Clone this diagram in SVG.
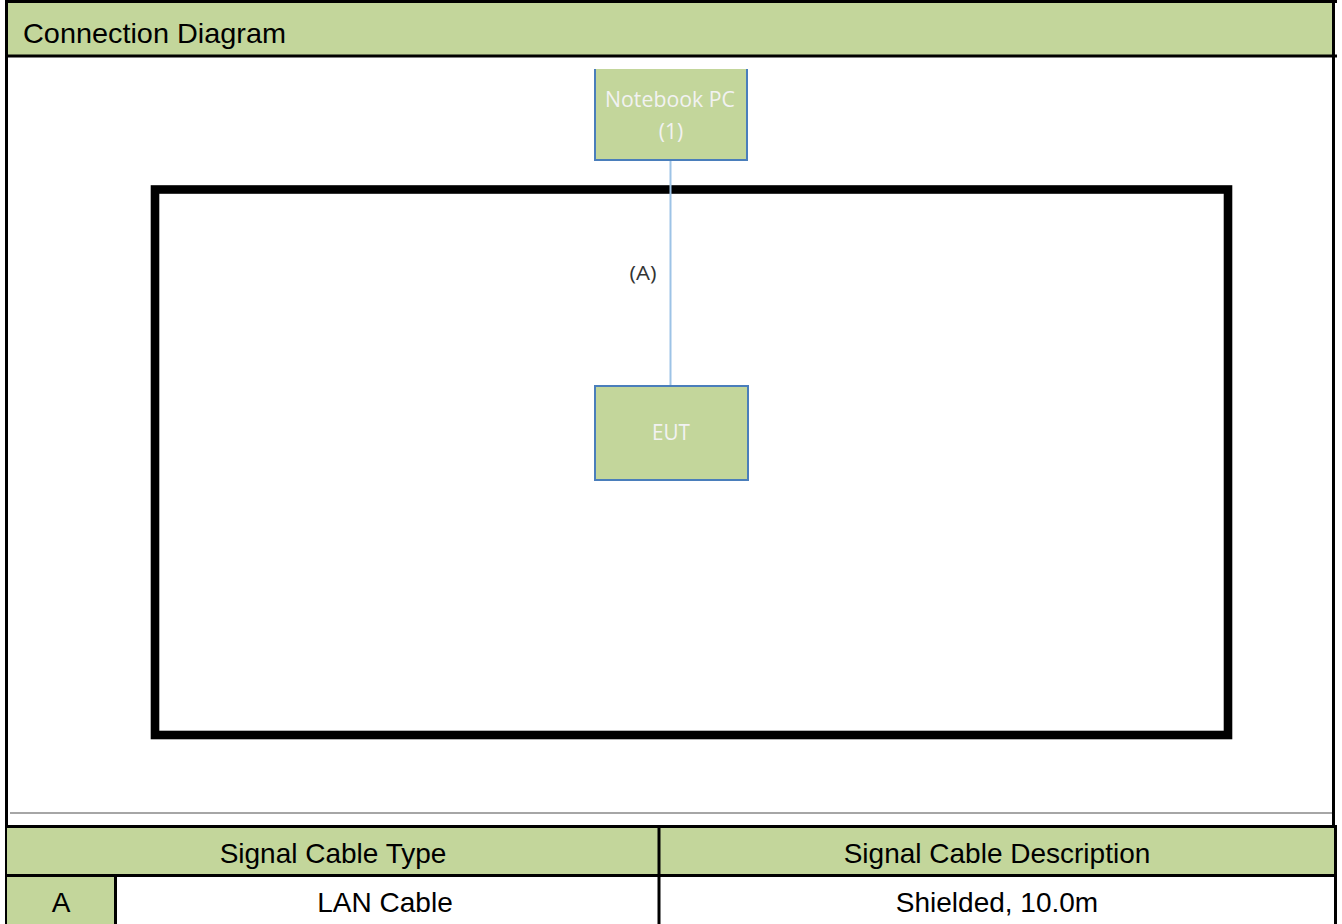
<svg xmlns="http://www.w3.org/2000/svg" width="1342" height="924" viewBox="0 0 1342 924">
<style>
.hdr{fill:#C3D69B}
.t{font-family:"Liberation Sans",Arial,sans-serif;font-size:28px;fill:#000}
.c{text-anchor:middle}
.node{fill:#C3D69B;stroke:#4A7EBB;stroke-width:2}
.nt{font-family:"Open Sans","Noto Sans",sans-serif;font-size:21px;fill:#F2F2F2;text-anchor:middle}
.bl{stroke:#000;stroke-width:3;fill:none}
</style>
<rect width="1342" height="924" fill="#fff"/>
<g id="frame">
<rect x="7" y="2" width="1327" height="54" class="hdr"/>
<line x1="5" y1="1.5" x2="1337" y2="1.5" class="bl"/>
<line x1="6.5" y1="0" x2="6.5" y2="924" class="bl"/>
<line x1="5" y1="56" x2="1337" y2="56" class="bl"/>
<line x1="1333.5" y1="0" x2="1333.5" y2="826" class="bl"/>
<text x="23" y="43" class="t" font-size="28.5" textLength="263" lengthAdjust="spacingAndGlyphs">Connection Diagram</text>
<line x1="10" y1="813" x2="1332" y2="813" stroke="#A6A6A6" stroke-width="2"/>
</g>
<g id="room">
<rect x="155" y="189.5" width="1073" height="545.5" fill="none" stroke="#000" stroke-width="8.6"/>
</g>
<g id="connectors">
<line x1="670.5" y1="160" x2="670.5" y2="386" stroke="#9DC3E6" stroke-width="2"/>
<text x="643" y="280" font-family="Open Sans,Noto Sans,sans-serif" font-size="20" fill="#333" text-anchor="middle" textLength="27" lengthAdjust="spacingAndGlyphs">(A)</text>
</g>
<g id="notebook">
<rect x="595" y="69" width="152" height="91" fill="#C3D69B"/>
<polyline points="595,69 595,160 747,160 747,69" fill="none" stroke="#4A7EBB" stroke-width="2"/>
<text x="670" y="107" class="nt" textLength="130" lengthAdjust="spacingAndGlyphs">Notebook PC</text>
<text x="671" y="139" class="nt">(1)</text>
</g>
<g id="eut">
<rect x="595" y="386" width="153" height="94" class="node"/>
<text x="671" y="440" class="nt" textLength="38" lengthAdjust="spacingAndGlyphs">EUT</text>
</g>
<g id="table">
<rect x="7" y="827" width="1328" height="48" class="hdr"/>
<rect x="7" y="876" width="108" height="48" class="hdr"/>
<line x1="7" y1="826.5" x2="1337" y2="826.5" class="bl"/>
<line x1="7" y1="875.5" x2="1337" y2="875.5" class="bl"/>
<line x1="659" y1="826" x2="659" y2="924" class="bl"/>
<line x1="115.5" y1="876" x2="115.5" y2="924" class="bl"/>
<line x1="1335.5" y1="825" x2="1335.5" y2="924" class="bl"/>
<text x="333" y="863" class="t c">Signal Cable Type</text>
<text x="997" y="863" class="t c">Signal Cable Description</text>
<text x="61" y="912" class="t c">A</text>
<text x="385" y="912" class="t c">LAN Cable</text>
<text x="997" y="912" class="t c">Shielded, 10.0m</text>
</g>
</svg>
